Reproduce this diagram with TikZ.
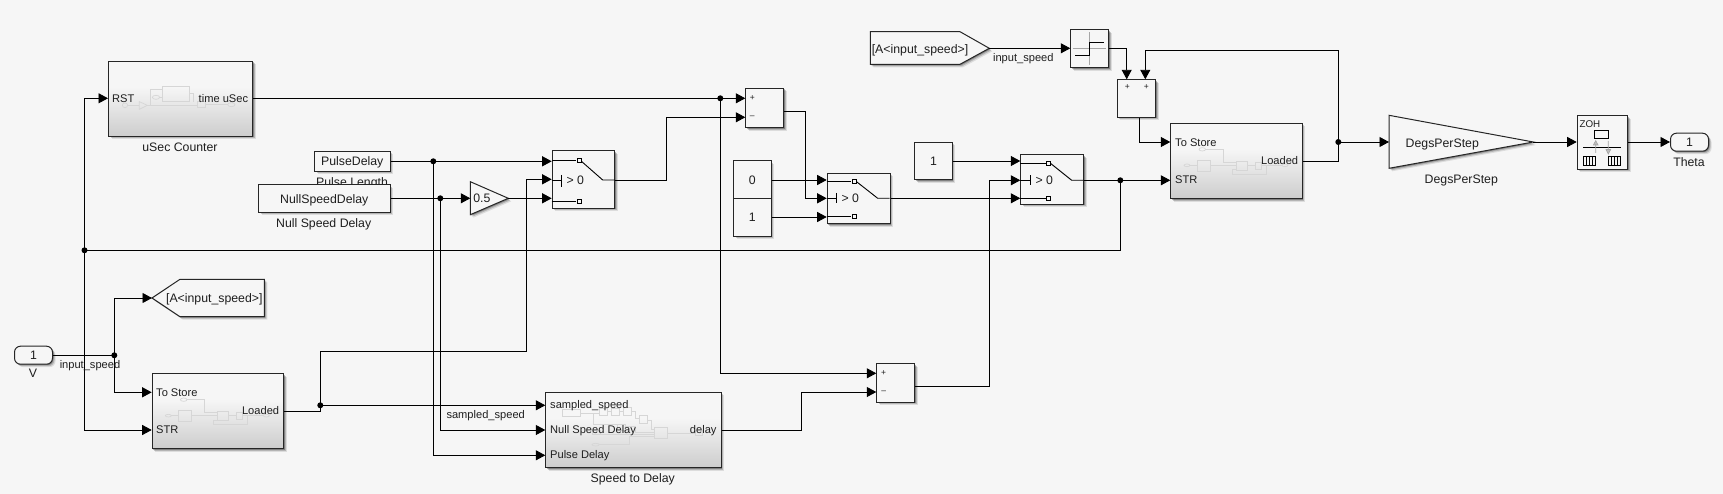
\documentclass[tikz,border=0pt]{standalone}
\usepackage{fontspec}
\setmainfont{Liberation Sans}
\usetikzlibrary{arrows.meta,shadows}
\definecolor{bgc}{HTML}{F6F6F6}
\definecolor{subb}{HTML}{CDCDCD}
\definecolor{ink}{HTML}{1E1E1E}
\definecolor{edge}{HTML}{262626}
\definecolor{mini}{HTML}{D6D6D6}
\pgfdeclareverticalshading{subgrad}{100bp}{color(0bp)=(subb); color(25bp)=(subb); color(58bp)=(bgc); color(100bp)=(bgc)}
\newcommand{\lab}{\fontsize{12.3}{14}\selectfont}
\newcommand{\prt}{\fontsize{11.1}{13}\selectfont}
\tikzset{
  softshadow/.style={
    general shadow={shadow xshift=3pt,shadow yshift=-3pt,fill=black,opacity=.10},
    general shadow={shadow xshift=2pt,shadow yshift=-2pt,fill=black,opacity=.18},
    general shadow={shadow xshift=1pt,shadow yshift=-1pt,fill=black,opacity=.28}},
  boxbase/.style={draw=edge,line width=1pt,fill=bgc,inner sep=0pt,softshadow,text=ink,font=\lab,text height=11.9pt,text depth=2.6pt},
  subsys/.style={draw=edge,line width=1pt,inner sep=0pt,softshadow,shading=subgrad},
  sig/.style={draw=black,line width=.95pt,-{Triangle[length=9.5pt,width=10pt]}},
  wire/.style={draw=black,line width=.95pt},
  tag/.style={inner sep=0pt,text=ink,font=\lab,text height=11.9pt,text depth=2.6pt},
  ptag/.style={inner sep=0pt,text=ink,font=\prt,text height=10.9pt,text depth=2.4pt},
  signtag/.style={inner sep=0pt,text=ink,font=\fontsize{8.5}{10}\selectfont},
  minil/.style={draw=mini,line width=.7pt},
  inner/.style={draw=black,line width=.9pt},
  sq/.style={draw=black,line width=.8pt,fill=bgc}
}
\newcommand{\blk}[7][]{% name x1 y1 x2 y2 text
  \node[boxbase,#1,minimum width=#5pt-#3pt,minimum height=#6pt-#4pt,anchor=north west] (#2) at (#3,#4) {#7};}
\newcommand{\subblk}[5]{%
  \node[subsys,minimum width=#4pt-#2pt,minimum height=#5pt-#3pt,anchor=north west] (#1) at (#2,#3) {};}
\newcommand{\storemini}[2]{%
  \begin{scope}[shift={(#1,#2)},x=.33333pt,y=-.33333pt,shift={(-455,-340)},minil]
    \draw (505,467) ellipse (9 and 4);
    \draw (514,467)--(535,467);
    \draw (535,451) rectangle (575,485);
    \draw (575,466)--(652,466);
    \draw (551,419) ellipse (10 and 5);
    \draw (561,419)--(613,419)--(613,458)--(652,458);
    \draw (652,454) rectangle (686,482);
    \draw (686,467)--(709,467);
    \draw (709,457) rectangle (727,478);
    \draw (727,467)--(790,467);
    \draw (799,467) ellipse (9 and 4);
    \draw (743,467)--(743,493)--(640,493)--(640,480)--(652,480);
  \end{scope}}
\newcommand{\switchin}[6]{%
  \draw[inner] (#1,#2)--(#3-3,#2);
  \draw[inner] (#3+2,#2+.5)--(#5,#4)--(#5+12,#4);
  \draw[inner] (#1,#6)--(#3-3,#6);
  \draw[sq] (#3-2,#2-2) rectangle (#3+2,#2+2);
  \draw[sq] (#3-2,#6-2) rectangle (#3+2,#6+2);}
\begin{document}
\begin{tikzpicture}[x=1pt,y=-1pt]
\useasboundingbox[fill=bgc] (0,0) rectangle (1723,494);

% labels lying under blocks
\node[tag] (lblPulse) at (352,181.7) {Pulse Length};

% --- blocks
\subblk{usec}{108}{60.7}{252}{135.7}
\begin{scope}[x=.33333pt,y=-.33333pt,shift={(0,90)},minil]
  \draw (375,226) ellipse (8 and 7);
  \draw (383,226)--(418,226);
  \draw (418,215)--(442,226)--(418,238)--cycle;
  \draw (442,226)--(592,226);
  \draw (451,226)--(451,178)--(487,178);
  \draw (487,168) rectangle (569,215);
  \draw (468,202) ellipse (11 and 6);
  \draw (479,202)--(487,202);
  \draw (569,190)--(581,190)--(581,215);
  \draw (592,215) rectangle (617,233);
  \draw (617,222)--(684,222);
  \draw (694,224) ellipse (11 and 6);
\end{scope}
\node[ptag,anchor=west] (usecRST) at (112,98) {RST};
\node[ptag,anchor=east] (usecOUT) at (248.3,98) {time uSec};
\node[tag] (lblUsec) at (180,146.7) {uSec Counter};

\blk{pulse}{314}{150.7}{389.5}{170.7}{PulseDelay}
\blk{nullsp}{258}{184.3}{389.5}{212}{NullSpeedDelay}
\node[tag] (lblNull) at (323.7,222.7) {Null Speed Delay};

\draw[boxbase,miter limit=10] (470.3,181.7)--(508.3,198.3)--(470.3,214.7)--cycle;
\node[tag] (gainHalf) at (481.8,198.3) {0.5};

\blk{swA}{551.7}{150.3}{614.3}{208}{}
\switchin{551.7}{160.7}{579.3}{180}{602.7}{201}
\draw[inner] (551.7,180)--(561.7,180) (561.7,175)--(561.7,186.7);
\node[tag] (swAt) at (575.3,179.5) {> 0};

\blk{sumA}{745.3}{88}{783.3}{127.3}{}
\node[signtag] (sumAp) at (752.3,98.3) {+};
\node[signtag] (sumAm) at (752.3,117.3) {–};

\blk{cZero}{733}{160.3}{770.7}{198}{0}
\blk{cOne}{733}{198}{770.7}{235.7}{1}

\blk{swB}{826.7}{173}{889.7}{223.3}{}
\switchin{826.7}{181}{854.3}{198.3}{877.7}{216.3}
\draw[inner] (826.7,198.3)--(836.3,198.3) (836.3,193)--(836.3,203.3);
\node[tag] (swBt) at (850.3,197.5) {> 0};

\blk{cThree}{914.3}{141.7}{951.7}{179.3}{1}

\blk{swC}{1020.3}{154.3}{1083}{204}{}
\switchin{1020.3}{163}{1048.7}{180.3}{1071.7}{198.3}
\draw[inner] (1020.3,180.3)--(1030.3,180.3) (1030.3,175.5)--(1030.3,185.5);
\node[tag] (swCt) at (1044.3,180) {> 0};

% goto
\draw[boxbase] (152,298)--(180,279.3)--(264.3,279.3)--(264.3,316.7)--(180,316.7)--cycle;
\node[tag] (gotoA) at (214.3,298) {[A<input\_speed>]};
% from
\draw[boxbase] (870.3,31.7)--(960,31.7)--(989.3,48.3)--(960,64.3)--(870.3,64.3)--cycle;
\node[tag] (fromA) at (920,48.5) {[A<input\_speed>]};

% relay
\blk{relay}{1070.3}{29.3}{1108.3}{67.3}{}
\draw[draw=gray!70,line width=.7pt] (1089.7,32.3)--(1089.7,65) (1072.7,48.3)--(1106,48.3);
\draw[inner] (1075.3,55.3)--(1089.7,55.3)--(1089.7,42.3)--(1103.7,42.3);

\blk{sumC}{1116.7}{79.3}{1155.3}{117}{}
\node[signtag] (sumCa) at (1127.3,86.7) {+};
\node[signtag] (sumCb) at (1146.3,86.7) {+};

% store blocks
\subblk{storeA}{151.7}{373.3}{283.3}{448.3}
\storemini{151.67}{373.33}
\node[ptag,anchor=west] (sAa) at (156,392) {To Store};
\node[ptag,anchor=west] (sAb) at (156,429.3) {STR};
\node[ptag,anchor=east] (sAc) at (279.3,410.3) {Loaded};

\subblk{storeB}{1170.3}{123}{1301.7}{198.3}
\storemini{1170.3}{123}
\node[ptag,anchor=west] (sBa) at (1175,142) {To Store};
\node[ptag,anchor=west] (sBb) at (1175,179.3) {STR};
\node[ptag,anchor=east] (sBc) at (1298.3,160.3) {Loaded};

% speed to delay
\subblk{spd}{545.3}{391.7}{720.7}{467}
\begin{scope}[x=.33333pt,y=-.33333pt,shift={(1635,1185)},minil]
  \draw (52,44) rectangle (106,65);
  \draw (106,55)--(163,55);
  \draw (163,40) rectangle (187,62);
  \draw (199,40) rectangle (223,62);
  \draw (235,38) rectangle (259,62);
  \draw (187,50)--(199,50) (223,50)--(235,50);
  \draw (259,50)--(272,50)--(272,70)--(283,70);
  \draw (283,61) rectangle (308,86);
  \draw (308,75)--(320,75)--(320,104)--(327,104);
  \draw (145,55)--(145,88)--(217,88);
  \draw (217,87) rectangle (240,105);
  \draw (240,95)--(272,95)--(272,112)--(327,112);
  \draw (142,105) rectangle (165,118);
  \draw (165,118)--(327,118);
  \draw (327,98) rectangle (368,129);
  \draw (152,149) ellipse (11 and 4);
  \draw (163,149)--(254,149)--(254,123)--(327,123);
  \draw (368,114)--(450,114);
  \draw (450,106) rectangle (473,120);
\end{scope}
\node[ptag,anchor=west] (spa) at (550,404) {sampled\_speed};
\node[ptag,anchor=west] (spb) at (550,429.3) {Null Speed Delay};
\node[ptag,anchor=west] (spc) at (550,454.3) {Pulse Delay};
\node[ptag,anchor=east] (spd1) at (716.7,429.3) {delay};
\node[tag] (lblSpd) at (632.7,477.7) {Speed to Delay};

\blk{sumB}{876.3}{363.3}{914.3}{401.7}{}
\node[signtag] (sumBp) at (883.7,373.3) {+};
\node[signtag] (sumBm) at (883.7,392) {–};

% gain
\draw[boxbase,miter limit=10] (1389,115.3)--(1533.3,142)--(1389,168.3)--cycle;
\node[tag] (gainDeg) at (1442.3,143) {DegsPerStep};
\node[tag] (lblDeg) at (1461.3,179) {DegsPerStep};

% ZOH
\blk{zoh}{1576.7}{115.3}{1627}{168.7}{}
\node[inner sep=0pt,text=ink,font=\fontsize{9.8}{11}\selectfont,anchor=west] (zohT) at (1579.3,124.5) {ZOH};
\draw[inner] (1594.7,130.7) rectangle (1608.7,138.7);
\draw[inner] (1583,147.7)--(1620.7,147.7);
\draw[draw=gray!70,line width=.7pt,fill=gray!50] (1595.7,153)--(1595.7,144) (1593.4,145)--(1595.7,140.7)--(1598,145)--cycle;
\draw[draw=gray!70,line width=.7pt,fill=gray!50] (1608.3,141)--(1608.3,150) (1606,149.5)--(1608.3,154)--(1610.6,149.5)--cycle;
\foreach \xs in {1583.3,1608.3}{
  \draw[line width=.8pt] (\xs,156.7) rectangle (\xs+12.5,165.3);
  \foreach \k in {3.1,6.2,9.3}{\draw[line width=.6pt] (\xs+\k,156.7)--(\xs+\k,165.3);}
}

% ports
\node[boxbase,rounded corners=6pt,minimum width=38pt,minimum height=18pt,anchor=north west] (inV) at (14,345.7) {1};
\node[tag] (lblV) at (33,372.5) {V};
\node[boxbase,rounded corners=6pt,minimum width=38pt,minimum height=18pt,anchor=north west] (outT) at (1670,132.7) {1};
\node[tag] (lblT) at (1689,161.7) {Theta};

% --- junctions and bends
\coordinate (jV) at (114.3,355.3);
\coordinate (jStr) at (84.5,250.3);
\coordinate (jLoad) at (320.3,405.3);
\coordinate (jPulse) at (433.3,161.3);
\coordinate (jNull) at (440.3,198.3);
\coordinate (jUsec) at (720.3,98.3);
\coordinate (jSw) at (1120.3,180.3);
\coordinate (jDeg) at (1338.3,142);

\coordinate (gainHalfIn) at (470.3,198.3);
\coordinate (gainHalfOut) at (508.3,198.3);
\coordinate (gotoTip) at (152,298);
\coordinate (fromTip) at (989.3,48.3);
\coordinate (gainDegIn) at (1389,142);
\coordinate (gainDegOut) at (1533.3,142);

% --- connectors
\draw[wire] (inV.east |- jV) -- (jV);
\draw[sig] (jV) |- (gotoTip);
\draw[sig] (jV) |- (storeA.west |- 0,392.3);
\draw[sig] (jStr) |- (usec.west |- 0,98.3);
\draw[sig] (jStr) |- (storeA.west |- 0,430);
\draw[wire] (jStr) -| (jSw);
\draw[sig] (swC.east |- jSw) -- (storeB.west |- jSw);
\draw[wire] (usec.east |- jUsec) -- (jUsec);
\draw[sig] (jUsec) -- (sumA.west |- jUsec);
\draw[sig] (jUsec) |- (sumB.west |- 0,373.3);

\draw[wire] (pulse.east |- jPulse) -- (jPulse);
\draw[sig] (jPulse) -- (swA.west |- jPulse);
\draw[sig] (jPulse) |- (spd.west |- 0,455.3);
\draw[wire] (nullsp.east |- jNull) -- (jNull);
\draw[sig] (jNull) -- (gainHalfIn);
\draw[sig] (jNull) |- (spd.west |- 0,430);
\draw[sig] (gainHalfOut) -- (swA.west |- gainHalfOut);

\draw[wire] (storeA.east |- 0,411) -| (jLoad);
\draw[sig] (jLoad) -- (spd.west |- jLoad);
\draw[sig] (jLoad) |- (526.3,351.3) |- (swA.west |- 0,179.3);

\draw[sig] (swA.east |- 0,180) -| (666.3,117.3) -- (sumA.west |- 0,117.3);
\draw[sig] (sumA.east |- 0,111.3) -| (805.7,198.3) -- (swB.west |- 0,198.3);
\draw[sig] (cZero.east |- 0,180) -- (swB.west |- 0,180);
\draw[sig] (cOne.east |- 0,217) -- (swB.west |- 0,217);
\draw[sig] (swB.east |- 0,198.3) -- (swC.west |- 0,198.3);
\draw[sig] (cThree.east |- 0,161) -- (swC.west |- 0,161);

\draw[sig] (spd.east |- 0,430) -| (801.3,392) -- (sumB.west |- 0,392);
\draw[sig] (sumB.east |- 0,386.7) -| (989.3,180.3) -- (swC.west |- 0,180.3);

\draw[sig] (fromTip) -- (relay.west |- fromTip);
\draw[sig] (relay.east |- fromTip) -| (sumC.north -| 1126.7,0);
\draw[sig] (storeB.east |- 0,161) -| (jDeg) |- (1145.3,50.7) -- (sumC.north -| 1145.3,0);
\draw[sig] (sumC.south -| 1139.3,0) |- (storeB.west |- 0,142);
\draw[sig] (jDeg) -- (gainDegIn);
\draw[sig] (gainDegOut) -- (zoh.west |- gainDegOut);
\draw[sig] (zoh.east |- gainDegOut) -- (outT.west |- gainDegOut);

% --- dots
\foreach \j in {jV,jStr,jLoad,jPulse,jNull,jUsec,jSw,jDeg}{\fill (\j) circle (3pt);}

% signal labels
\node[ptag] (sigV) at (90,364.3) {input\_speed};
\node[ptag] (sigF) at (1023.3,57.3) {input\_speed};
\node[ptag] (sigS) at (485.7,414.3) {sampled\_speed};
\end{tikzpicture}
\end{document}
